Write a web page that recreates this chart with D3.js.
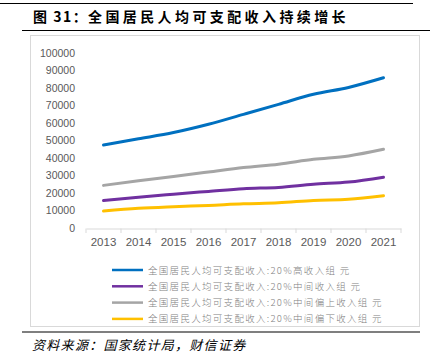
<!DOCTYPE html>
<html><head><meta charset="utf-8">
<script src="https://cdn.jsdelivr.net/npm/d3@7"></script>
<style>body{margin:0;background:#fff}svg{display:block}</style>
</head><body>
<script>
const years = ["2013","2014","2015","2016","2017","2018","2019","2020","2021"];
const high = [47457,50968,54544,59259,64934,70640,76401,80294,85836];
const middle = [15698,17631,19320,20924,22495,23189,25035,26249,29053];
const upperMiddle = [24361,26937,29438,31990,34547,36471,39230,41172,44949];
const lowerMiddle = [9654,11219,12157,12899,13843,14361,15777,16443,18446];
const yTicks = [0,10000,20000,30000,40000,50000,60000,70000,80000,90000,100000];
const seriesNames = ["全国居民人均可支配收入:20%高收入组 元","全国居民人均可支配收入:20%中间收入组 元","全国居民人均可支配收入:20%中间偏上收入组 元","全国居民人均可支配收入:20%中间偏下收入组 元"];
const colors = ["#0070C0","#7030A0","#A5A5A5","#FFC000"];
const seriesData = [high, middle, upperMiddle, lowerMiddle];

const W=436,H=359;
const svg=d3.select("body").append("svg").attr("width",W).attr("height",H);
const cjk='"Noto Sans CJK SC", sans-serif';

svg.append("line").attr("x1",0).attr("x2",413).attr("y1",3.5).attr("y2",3.5).attr("stroke","#000").attr("stroke-width",1.2);
const title=svg.append("text").attr("y",22).attr("font-family",cjk).attr("font-weight","bold")
  .attr("font-size",14).attr("fill","#000");
title.append("tspan").attr("x",33).attr("letter-spacing",1.5).text("图 31：");
title.append("tspan").attr("x",88).attr("letter-spacing",3.4).text("全国居民人均可支配收入持续增长");
svg.append("line").attr("x1",22).attr("x2",430).attr("y1",30.5).attr("y2",30.5).attr("stroke","#000").attr("stroke-width",1.2);

svg.append("rect").attr("x",30.5).attr("y",35.5).attr("width",389).attr("height",291).attr("fill","none").attr("stroke","#d9d9d9");

const x=d3.scaleBand().domain(years).range([86,401]);
const y=d3.scaleLinear().domain([0,100000]).range([228,53]);

const yAxis=svg.append("g").attr("transform","translate(80,0)")
  .call(d3.axisLeft(y).tickValues(yTicks).tickSize(0).tickPadding(5).tickFormat(d3.format("d")));
yAxis.select(".domain").remove();
yAxis.selectAll("text").attr("font-family","Liberation Sans, Arial, sans-serif").attr("font-size",10.5).attr("fill","#595959");

const xAxis=svg.append("g").attr("transform","translate(0,228.5)")
  .call(d3.axisBottom(x).tickSize(0).tickPadding(9));
xAxis.select(".domain").attr("stroke","#d9d9d9");
xAxis.selectAll("text").attr("font-family","Liberation Sans, Arial, sans-serif").attr("font-size",11.5).attr("fill","#595959");
const bounds=years.map(d=>x(d)).concat([x.range()[1]]);
svg.append("g").selectAll("line").data(bounds).join("line")
  .attr("x1",d=>d).attr("x2",d=>d).attr("y1",228.5).attr("y2",233).attr("stroke","#d9d9d9");

const line=d3.line().x((d,i)=>x(years[i])+x.bandwidth()/2).y(d=>y(d)).curve(d3.curveMonotoneX);
seriesData.forEach((s,k)=>{
  svg.append("path").datum(s).attr("d",line).attr("fill","none").attr("stroke",colors[k]).attr("stroke-width",3).attr("stroke-linecap","round");
});

const leg=svg.append("g");
seriesNames.forEach((n,k)=>{
  const yy=270+k*16.3;
  leg.append("line").attr("x1",112).attr("x2",143).attr("y1",yy).attr("y2",yy).attr("stroke",colors[k]).attr("stroke-width",2.5);
  leg.append("text").attr("x",148).attr("y",yy+3.5).attr("font-family",cjk).attr("font-size",9.5).attr("font-weight",300)
    .attr("letter-spacing",1.3).attr("fill","#7f7f7f").text(n);
});

svg.append("line").attr("x1",22).attr("x2",420).attr("y1",332).attr("y2",332).attr("stroke","#000").attr("stroke-width",1.2);
svg.append("text").attr("x",32).attr("y",350).attr("font-family",cjk).attr("font-style","italic").attr("font-size",13)
  .attr("letter-spacing",1.3).attr("fill","#000").text("资料来源：国家统计局，财信证券");
</script>
</body></html>
